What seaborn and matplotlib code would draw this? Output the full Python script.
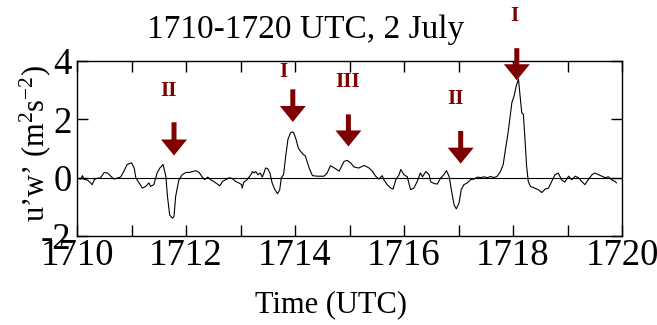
import matplotlib
matplotlib.use("Agg")
import matplotlib.pyplot as plt
import seaborn as sns
import pandas as pd

# ---- data ----
time_utc = [
    1710.00, 1710.07, 1710.10, 1710.13, 1710.19, 1710.25, 1710.28, 1710.32, 1710.37, 1710.43,
    1710.50, 1710.56, 1710.62, 1710.68, 1710.74, 1710.80, 1710.86, 1710.92, 1711.00, 1711.05,
    1711.08, 1711.14, 1711.20, 1711.26, 1711.32, 1711.35, 1711.41, 1711.47, 1711.52, 1711.58,
    1711.63, 1711.66, 1711.70, 1711.75, 1711.78, 1711.81, 1711.87, 1711.93, 1712.00, 1712.06,
    1712.18, 1712.24, 1712.30, 1712.34, 1712.40, 1712.45, 1712.51, 1712.57, 1712.62, 1712.67,
    1712.73, 1712.79, 1712.85, 1712.91, 1712.97, 1713.02, 1713.03, 1713.06, 1713.12, 1713.19,
    1713.22, 1713.25, 1713.28, 1713.32, 1713.36, 1713.40, 1713.43, 1713.46, 1713.50, 1713.54,
    1713.58, 1713.63, 1713.68, 1713.72, 1713.75, 1713.79, 1713.83, 1713.87, 1713.92, 1713.96,
    1713.98, 1714.02, 1714.06, 1714.10, 1714.15, 1714.19, 1714.26, 1714.32, 1714.41, 1714.53,
    1714.59, 1714.65, 1714.75, 1714.81, 1714.90, 1714.96, 1715.02, 1715.08, 1715.17, 1715.27,
    1715.36, 1715.42, 1715.48, 1715.54, 1715.60, 1715.63, 1715.69, 1715.76, 1715.80, 1715.85,
    1715.91, 1715.94, 1716.00, 1716.06, 1716.12, 1716.18, 1716.24, 1716.30, 1716.34, 1716.40,
    1716.46, 1716.49, 1716.55, 1716.61, 1716.67, 1716.73, 1716.78, 1716.83, 1716.87, 1716.92,
    1716.96, 1717.01, 1717.05, 1717.10, 1717.16, 1717.22, 1717.28, 1717.35, 1717.41, 1717.47,
    1717.53, 1717.59, 1717.65, 1717.71, 1717.77, 1717.82, 1717.86, 1717.91, 1717.98, 1718.02,
    1718.06, 1718.10, 1718.13, 1718.16, 1718.19, 1718.22, 1718.25, 1718.28, 1718.32, 1718.40,
    1718.46, 1718.53, 1718.59, 1718.65, 1718.71, 1718.77, 1718.83, 1718.89, 1718.95, 1719.02,
    1719.08, 1719.14, 1719.20, 1719.26, 1719.32, 1719.38, 1719.45, 1719.50, 1719.57, 1719.63,
    1719.69, 1719.75, 1719.81, 1719.87, 1719.90,
]
uw_flux = [
    -0.01, -0.05, 0.07, -0.06, -0.08, -0.18, -0.24, -0.06, -0.02, -0.01,
    0.18, 0.16, 0.05, -0.05, -0.01, 0.02, 0.22, 0.45, 0.51, 0.33,
    -0.01, -0.18, -0.36, -0.30, -0.18, -0.30, -0.24, 0.16, 0.33, 0.45,
    0.05, -0.64, -1.28, -1.39, -1.33, -0.64, -0.07, 0.10, 0.18, 0.18,
    0.24, 0.18, 0.02, -0.07, 0.02, -0.07, -0.13, -0.21, -0.28, -0.13,
    -0.07, 0.00, -0.03, -0.13, -0.18, -0.24, -0.36, -0.16, -0.07, 0.10,
    0.21, 0.16, 0.21, 0.10, 0.16, 0.02, 0.16, 0.33, 0.31, 0.16,
    -0.18, -0.41, -0.55, -0.41, 0.00, 0.10, 0.74, 1.31, 1.54, 1.57,
    1.52, 1.31, 1.02, 0.91, 0.80, 0.74, 0.33, 0.07, 0.05, 0.05,
    0.16, 0.41, 0.30, 0.22, 0.56, 0.59, 0.51, 0.37, 0.33, 0.42,
    0.33, 0.22, 0.05, -0.05, 0.07, -0.07, -0.24, -0.36, -0.39, -0.07,
    0.10, 0.28, 0.10, 0.03, -0.41, -0.36, -0.14, 0.16, 0.03, 0.21,
    0.10, -0.14, -0.20, -0.22, -0.02, 0.10, 0.24, 0.03, -0.43, -0.94,
    -1.07, -0.87, -0.41, -0.24, -0.18, -0.07, -0.05, 0.02, 0.00, 0.03,
    0.00, 0.04, 0.00, 0.05, 0.21, 0.45, 0.95, 1.54, 2.58, 2.80,
    3.15, 3.38, 2.80, 2.23, 2.17, 1.31, 0.39, -0.13, -0.30, -0.36,
    -0.41, -0.51, -0.39, -0.36, -0.13, 0.10, 0.16, -0.07, -0.15, 0.05,
    -0.07, 0.05, 0.00, -0.13, -0.24, -0.07, 0.10, 0.16, 0.10, 0.05,
    0.00, 0.03, -0.07, -0.13, -0.18,
]

event_labels = ["II", "I", "III", "II", "I"]
event_time = [1711.78, 1713.96, 1714.98, 1717.04, 1718.07]
arrow_tail_y = [1.90, 3.03, 2.17, 1.60, 4.44]
arrow_tip_y = [0.76, 1.91, 1.07, 0.48, 3.34]
label_time = [1711.67, 1713.78, 1714.97, 1716.94, 1718.02]
label_y = [2.97, 3.62, 3.28, 2.69, 5.56]

x_ticks = list(range(1710, 1721))
x_ticklabels = [str(t) if t % 2 == 0 else "" for t in x_ticks]
y_ticks = [-2, 0, 2, 4]

title = "1710-1720 UTC, 2 July"
xlabel = "Time (UTC)"
ylabel = "u\u2019w\u2019 (m$^{2}$s$^{-2}$)"

# ---- style ----
sns.set_theme(style="ticks")
plt.rcParams["font.family"] = ["Liberation Serif", "DejaVu Serif"]
plt.rcParams["mathtext.fontset"] = "custom"
plt.rcParams["mathtext.rm"] = "Liberation Serif"
plt.rcParams["mathtext.it"] = "Liberation Serif:italic"
plt.rcParams["mathtext.default"] = "regular"
for key in ["text.color", "axes.labelcolor", "xtick.color", "ytick.color",
            "xtick.labelcolor", "ytick.labelcolor", "axes.edgecolor"]:
    plt.rcParams[key] = "black"

dark_red = "#7f0000"

fig = plt.figure(figsize=(6.57, 3.25), dpi=100)
ax = fig.add_axes([77 / 657, 1 - 236 / 325, (622 - 77) / 657, (236 - 61) / 325])

df = pd.DataFrame({"time": time_utc, "uw": uw_flux})
sns.lineplot(data=df, x="time", y="uw", ax=ax, color="black", linewidth=0.8,
             estimator=None, sort=False)
ax.axhline(0, color="black", linewidth=0.8, zorder=1)

ax.set_xlim(1710, 1720)
ax.set_ylim(-2, 4)
ax.set_xticks(x_ticks)
ax.set_xticklabels(x_ticklabels)
ax.set_yticks(y_ticks)
ax.set_yticklabels([str(v) for v in y_ticks])
ax.tick_params(direction="in", length=8, width=1.0, top=True, right=True,
               labelsize=26.5, pad=2, colors="black")
ax.tick_params(axis="y", pad=4)
for sp in ax.spines.values():
    sp.set_linewidth(1.0)
    sp.set_color("black")
ax.set_xlabel("")
ax.set_ylabel("")

# arrows and labels
for xe, ty, hy in zip(event_time, arrow_tail_y, arrow_tip_y):
    ax.annotate("", xy=(xe, hy), xytext=(xe, ty), annotation_clip=False,
                arrowprops=dict(arrowstyle="simple,head_length=1.6,head_width=2.6,tail_width=0.5",
                                color=dark_red, shrinkA=0, shrinkB=0,
                                mutation_scale=7.2, lw=0))
for lab, xl, yl in zip(event_labels, label_time, label_y):
    ax.text(xl, yl, lab, color=dark_red, fontsize=15, fontweight="bold",
            ha="center", va="center", clip_on=False)

fig.text(306 / 657, 1 - 30 / 325, title, fontsize=24, ha="center", va="center",
         color="black")
fig.text(331 / 657, 1 - 305 / 325, xlabel, fontsize=22, ha="center", va="center",
         color="black")
fig.text(35 / 657, 1 - 143 / 325, ylabel, fontsize=22, ha="center", va="center",
         rotation=90, color="black")

fig.savefig("out.png", dpi=100)
